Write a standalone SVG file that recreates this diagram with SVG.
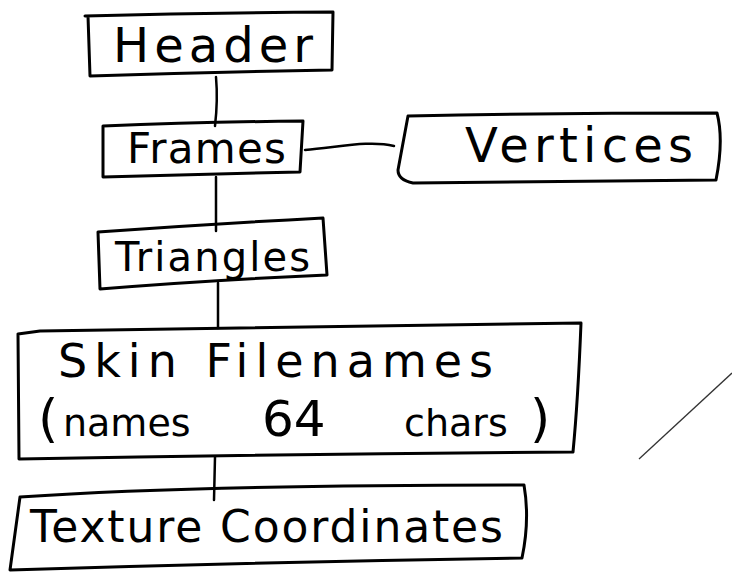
<svg xmlns="http://www.w3.org/2000/svg" width="732" height="573" viewBox="0 0 732 573">
  <style>
    .box { fill: none; stroke: #000; stroke-width: 3; stroke-linecap: round; stroke-linejoin: round; }
    .link { fill: none; stroke: #000; stroke-width: 2.5; stroke-linecap: round; }
    .label { font-family: "DejaVu Sans", "Liberation Sans", sans-serif; fill: #000; }
  </style>
  <rect width="732" height="573" fill="#fff"/>

  <!-- connectors -->
  <g id="connectors">
    <path class="link" d="M216,77 Q218,100 215,126"/>
    <path class="link" d="M305,150 C340,147 370,140 394,146"/>
    <path class="link" d="M216,177 L216,231"/>
    <path class="link" d="M218,283 L218,328"/>
    <path class="link" d="M215,457 L214,500"/>
  </g>

  <g id="header">
    <path class="box" d="M85,16 Q210,13 333,12 L332,70 Q210,72 90,76 L88,16"/>
    <text class="label" x="113" y="62" font-size="48" textLength="200" lengthAdjust="spacing">Header</text>
  </g>

  <g id="frames">
    <path class="box" d="M103,126 Q200,122 303,121 L300,172 Q200,174 103,177 L103,126"/>
    <text class="label" x="127" y="163" font-size="42" textLength="159" lengthAdjust="spacing">Frames</text>
  </g>

  <g id="vertices">
    <path class="box" d="M408,116 Q560,113 717,113 Q724,140 716,180 Q560,181 413,183 Q398,180 398,170 L408,116"/>
    <text class="label" x="465" y="162" font-size="48" textLength="228" lengthAdjust="spacing">Vertices</text>
  </g>

  <g id="triangles">
    <path class="box" d="M98,232 Q210,224 323,218 L327,275 Q210,280 100,289 L98,232"/>
    <text class="label" x="115" y="271" font-size="40" textLength="195" lengthAdjust="spacing">Triangles</text>
  </g>

  <g id="skin-filenames">
    <path class="box" d="M18,334 L40,331 Q300,326 581,323 Q578,400 573,452 Q300,454 19,459 L18,334"/>
    <text class="label" x="58" y="377" font-size="46" textLength="435" lengthAdjust="spacing">Skin Filenames</text>
    <text class="label" y="436"><tspan x="38" font-size="52">(</tspan><tspan x="63" font-size="38">names</tspan><tspan x="262" font-size="50">64</tspan><tspan x="404" font-size="38">chars</tspan><tspan x="530" font-size="52">)</tspan></text>
  </g>

  <g id="texture-coordinates">
    <path class="box" d="M20,497 Q200,485 524,485 Q530,520 522,558 Q260,562 10,570 L20,497"/>
    <text class="label" x="30" y="542" font-size="44" textLength="473" lengthAdjust="spacing">Texture Coordinates</text>
  </g>

  <!-- stray pencil stroke at the right -->
  <path d="M639,459 L732,373" fill="none" stroke="#333" stroke-width="1.3"/>
</svg>
